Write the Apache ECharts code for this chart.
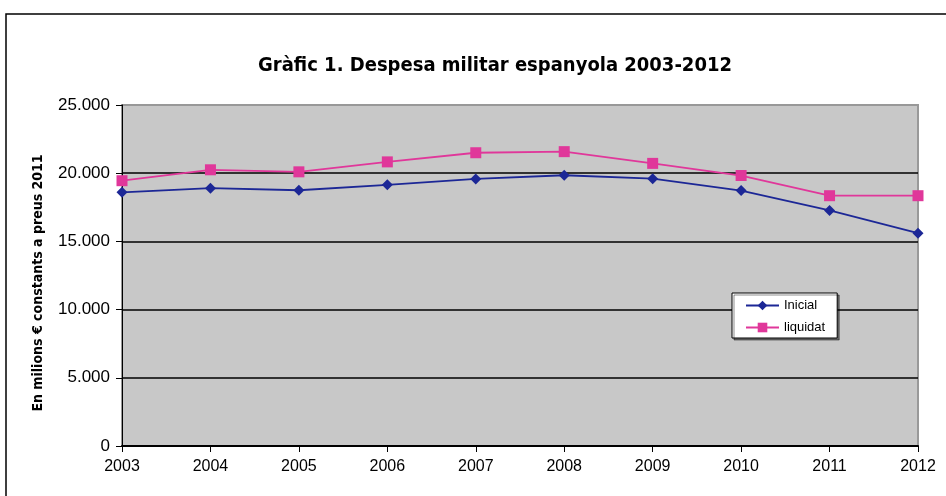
<!DOCTYPE html>
<html><head><meta charset="utf-8">
<script src="https://cdn.jsdelivr.net/npm/echarts@6/dist/echarts.min.js"></script>
<style>html,body{margin:0;padding:0;background:#fff}#c{width:946px;height:496px}</style>
</head><body><div id="c"></div>
<script>
const years = ['2003','2004','2005','2006','2007','2008','2009','2010','2011','2012'];
const inicial = [18600, 18900, 18750, 19150, 19580, 19850, 19600, 18730, 17270, 15600];
const liquidat = [19450, 20250, 20100, 20830, 21500, 21580, 20720, 19830, 18350, 18350];
const titleText = 'Gràfic 1. Despesa militar espanyola 2003-2012';
const yName = 'En milions € constants a preus 2011';

const chart = echarts.init(document.getElementById('c'));
chart.setOption({
  animation: false,
  backgroundColor: '#fff',
  title: {
    text: titleText, left: 490, textAlign: 'center', top: 51,
    textStyle: {fontFamily: '"DejaVu Sans Condensed", sans-serif', fontSize: 20, fontWeight: 'bold', color: '#000'}
  },
  graphic: [{
    type: 'rect', shape: {x: 6, y: 14, width: 960, height: 500},
    style: {fill: 'none', stroke: '#000', lineWidth: 1.5}, z: 0
  }, {
    type: 'text', x: 38, y: 283, rotation: Math.PI / 2,
    style: {text: yName, fill: '#000', align: 'center', verticalAlign: 'middle',
      font: 'bold 14px "DejaVu Sans Condensed", sans-serif'}
  }],
  grid: {left: 122, right: 28, top: 105, bottom: 50, show: true, backgroundColor: '#c8c8c8', borderColor: '#999', borderWidth: 2},
  legend: {
    orient: 'vertical', left: 732, top: 293,
    backgroundColor: '#fff', borderColor: '#000', borderWidth: 1,
    shadowColor: 'rgba(0,0,0,0.45)', shadowOffsetX: 2, shadowOffsetY: 2, shadowBlur: 0,
    padding: [6, 12, 4, 13], itemWidth: 33, itemHeight: 12, itemGap: 9,
    textStyle: {fontFamily: '"Liberation Sans", Arial, sans-serif', fontSize: 13, color: '#000'},
    data: ['Inicial', 'liquidat']
  },
  xAxis: {
    type: 'category', data: years, boundaryGap: false,
    axisLine: {lineStyle: {color: '#000', width: 2}},
    axisTick: {show: true, length: 6, lineStyle: {color: '#000', width: 1}},
    axisLabel: {fontFamily: '"Liberation Sans", Arial, sans-serif', fontSize: 16, color: '#000', margin: 13},
    splitLine: {show: false}
  },
  yAxis: {
    type: 'value', min: 0, max: 25000, interval: 5000,
    axisLine: {show: true, lineStyle: {color: '#000', width: 1}},
    axisTick: {show: true, length: 6, lineStyle: {color: '#000'}},
    axisLabel: {fontFamily: '"Liberation Sans", Arial, sans-serif', fontSize: 17, color: '#000', margin: 12,
      formatter: v => v === 0 ? '0' : (v/1000).toFixed(0) + '.000'},
    splitLine: {show: true, lineStyle: {color: ['#000','#000','#000','#000','#000','#999'], width: 1.5}}
  },
  series: [
    {name: 'Inicial', type: 'line', data: inicial, symbol: 'diamond', symbolSize: 11,
     itemStyle: {color: '#1c2796'}, lineStyle: {color: '#1c2796', width: 1.8}},
    {name: 'liquidat', type: 'line', data: liquidat, symbol: 'rect', symbolSize: 11,
     itemStyle: {color: '#e0379a'}, lineStyle: {color: '#e0379a', width: 1.8}}
  ]
});
</script></body></html>
